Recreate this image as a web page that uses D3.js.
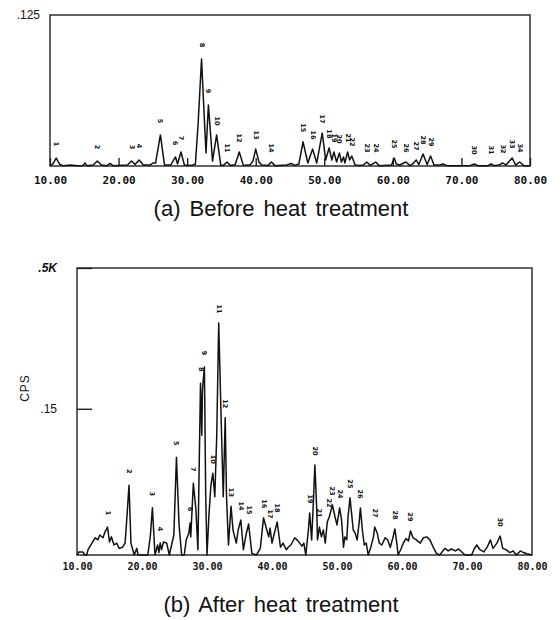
<!DOCTYPE html>
<html>
<head>
<meta charset="utf-8">
<script src="https://cdn.jsdelivr.net/npm/d3@7/dist/d3.min.js"></script>
<style>
  body { margin: 0; background: #fff; }
  .tick text.xlab { font-family: "DejaVu Sans Mono", monospace; font-weight: bold; fill: #111; }
  .ylab { font-family: "Liberation Sans", Arial, sans-serif; fill: #111; }
  .peak { font-family: "DejaVu Sans", sans-serif; font-weight: bold; font-size: 6.5px; fill: #111; }
  .title { font-family: "Liberation Sans", Arial, sans-serif; font-size: 22px; fill: #111; word-spacing: 3px; }
</style>
</head>
<body>
<div id="chart"></div>
<script>
// 2-theta tick values (degrees)
var angleTicks = [10, 20, 30, 40, 50, 60, 70, 80];

// (a) before heat treatment : 2-theta / CPS
var beforeAngle = [10.0, 10.4, 10.9, 11.4, 11.9, 13.0, 14.0, 14.8, 15.1, 15.4, 16.3, 16.9, 17.5, 18.3, 18.75, 19.2,
  21.3, 21.9, 22.4, 23.0, 23.6, 24.6, 25.0, 25.4, 26.1, 26.7, 27.6, 28.3, 28.6, 29.1, 29.6, 30.6, 31.2, 31.6,
  32.1, 32.5, 32.75, 33.1, 33.5, 33.7, 34.3, 34.9, 35.3, 35.8, 36.3, 37.0, 37.6, 38.2, 39.2, 39.6, 40.0, 40.5,
  40.9, 41.8, 42.3, 42.8, 44.5, 45.2, 45.7, 46.3, 46.9, 47.6, 48.3, 48.9, 49.7, 50.2, 50.7, 51.1, 51.4, 51.8,
  52.2, 52.5, 52.8, 53.0, 53.4, 53.7, 54.0, 54.5, 55.2, 55.7, 56.2, 56.7, 57.5, 58.0, 59.8, 60.2, 60.5, 61.0,
  61.9, 62.5, 62.9, 63.4, 63.8, 64.4, 65.0, 65.5, 66.0, 66.9, 67.3, 67.9, 71.3, 71.9, 72.4, 73.9, 74.3, 74.8,
  75.5, 76.0, 76.5, 77.4, 77.9, 78.5, 79.1, 80.0];
var beforeCps = [0.5, 1.5, 6.6, 1.5, 0.3, 0.8, 0.3, 0.5, 2.5, 0.3, 0.8, 4.1, 0.8, 0.3, 2.1, 0.3,
  0.8, 4.1, 1.2, 5.0, 0.8, 0.8, 2.5, 2.5, 25.7, 0.8, 0.8, 7.5, 1.7, 11.6, 0.8, 0.5, 1.5, 35,
  88.6, 40, 10.8, 50.5, 20, 4.1, 25.7, 0.8, 0.5, 3.3, 0.5, 1.0, 11.6, 0.5, 1.0, 4.0, 14, 3.0,
  0.8, 0.5, 3.3, 0.3, 0.8, 2.1, 0.5, 1.7, 20, 2.5, 14, 2.5, 27.3, 5.0, 15, 5.0, 11.6, 3.3,
  10.8, 3.3, 7.5, 2.5, 11.6, 5.0, 8.3, 0.8, 0.5, 0.8, 3.3, 0.5, 3.3, 0.3, 0.8, 6.6, 1.7, 0.8,
  3.3, 0.3, 1.7, 5.0, 1.2, 10, 1.2, 8.3, 0.8, 0.8, 1.7, 0.3, 0.5, 1.7, 0.3, 0.3, 1.7, 0.3,
  0.8, 2.5, 0.8, 6.6, 0.8, 3.3, 0.3, 0.3];
var beforePeakNo = [1, 2, 3, 4, 5, 6, 7, 8, 9, 10, 11, 12, 13, 14, 15, 16, 17, 18, 19, 20, 21, 22,
  23, 24, 25, 26, 27, 28, 29, 30, 31, 32, 33, 34];
var beforePeakAngle = [10.9, 16.9, 21.9, 23.0, 26.1, 28.3, 29.1, 32.1, 33.1, 34.3, 35.8, 37.6, 40.0, 42.3,
  46.9, 48.3, 49.7, 50.7, 51.4, 52.2, 53.4, 54.0, 56.2, 57.5, 60.2, 61.9, 63.4, 64.4, 65.5, 71.9, 74.3,
  76.0, 77.4, 78.5];

// (b) after heat treatment
var afterAngle = [10.0, 10.3, 10.9, 11.2, 11.5, 11.7, 12.3, 12.8, 13.2, 13.5, 14.0, 14.3, 14.7, 15.0, 15.3,
  15.7, 16.1, 16.5, 17.0, 17.4, 17.7, 18.0, 18.3, 18.8, 19.2, 19.4, 20.9, 21.3, 21.6, 22.0, 22.4, 22.6, 22.8,
  23.0, 23.3, 23.8, 24.2, 24.9, 25.3, 25.7, 26.1, 26.5, 26.8, 27.2, 27.4, 27.5, 27.9, 28.3, 28.6, 28.8, 29.0,
  29.2, 29.3, 29.6, 29.8, 30.0, 30.3, 30.6, 30.9, 31.2, 31.5, 31.8, 32.2, 32.5, 32.8, 33.0, 33.3, 33.7, 34.0,
  34.5, 34.8, 35.2, 35.6, 36.0, 36.4, 36.9, 37.6, 38.2, 38.7, 39.2, 39.5, 39.7, 40.0, 40.3, 40.8, 41.3, 41.7,
  42.2, 42.5, 42.9, 43.5, 44.0, 44.6, 44.9, 45.2, 45.6, 45.8, 46.1, 46.4, 46.6, 46.9, 47.0, 47.3, 47.6, 47.9,
  48.2, 48.5, 48.8, 49.1, 49.3, 49.7, 50.0, 50.4, 50.7, 51.0, 51.2, 51.5, 51.7, 52.0, 52.3, 52.5, 52.8, 53.1,
  53.4, 53.6, 53.9, 54.2, 54.5, 54.8, 55.2, 55.6, 55.8, 56.2, 56.5, 56.9, 57.4, 57.8, 58.2, 58.6, 58.9, 59.2,
  59.4, 59.8, 60.2, 60.6, 61.0, 61.3, 61.7, 62.2, 62.8, 63.3, 63.8, 64.3, 64.8, 65.3, 65.8, 66.6, 67.1, 67.6,
  68.2, 68.7, 69.2, 69.7, 70.7, 71.1, 71.5, 72.0, 72.6, 73.1, 73.6, 74.0, 74.6, 75.1, 75.5, 76.0, 76.6, 77.1,
  77.6, 78.2, 78.7, 79.2, 80.0];
var afterCps = [0, 0.15, 0.15, 0, 0, 0.4, 1.7, 3.3, 2.6, 4.3, 3.3, 5.5, 7.8, 2.0, 3.6,
  1.25, 1.7, 0.6, 0.8, 1.7, 14.8, 40, 1.7, 0, 0.6, 0, 0, 4.3, 20, 0, 1.25, 0.1, 1.7,
  0.4, 2.0, 1.7, 0, 4.3, 73, 8.9, 0, 0, 2.6, 5.0, 10, 3.6, 42, 18.3, 0.4, 63, 200,
  105, 186, 235, 30, 0, 14.8, 40, 53, 29, 105, 342, 122, 29, 134, 30, 1.25, 21, 6.4,
  1.7, 6.4, 11.7, 0.4, 4.3, 9.4, 0.05, 0, 0.6, 13, 6.4, 3.6, 7.3, 1.7, 4.3, 10.5, 0.8, 1.7,
  0.4, 0.8, 1.25, 3.3, 2.3, 1.0, 1.7, 0, 6.4, 16.2, 2.6, 29, 63, 16.2, 2.6, 7.8, 3.6, 6.4,
  1.7, 10.5, 13.5, 18.3, 22, 13.5, 8.9, 19.8, 11.7, 0.8, 3.6, 2.6, 13.5, 28, 13.5, 6.4, 5.0, 2.6,
  10, 19.8, 6.4, 1.25, 1.7, 0, 0.8, 3.6, 7.8, 5.0, 1.7, 1.25, 3.3, 2.6, 0.8, 3.3, 6.9, 1.7,
  0, 0.4, 1.7, 3.0, 2.3, 6.0, 3.3, 2.6, 1.7, 3.3, 3.6, 2.6, 0.8, 0.05, 0, 0.6, 0.25, 0.5,
  0.25, 0.5, 0.15, 0, 0, 0.5, 1.25, 0.4, 0.15, 0.8, 2.6, 0.6, 1.7, 3.9, 0.6, 0.4, 0.1, 0.25,
  0, 0.25, 0.1, 0.03, 0];
var afterPeakNo = [1, 2, 3, 4, 5, 6, 7, 8, 9, 10, 11, 12, 13, 14, 15, 16, 17, 18, 19, 20, 21, 22,
  23, 24, 25, 26, 27, 28, 29, 30];
var afterPeakAngle = [14.7, 18.0, 21.6, 22.8, 25.3, 27.4, 27.9, 29.0, 29.6, 30.9, 31.8, 32.8, 33.7, 35.2,
  36.4, 38.7, 39.7, 40.8, 45.8, 46.6, 47.3, 48.8, 49.3, 50.4, 52.0, 53.6, 55.8, 58.9, 61.3, 75.1];

var svg = d3.select('#chart').append('svg')
    .attr('width', 560)
    .attr('height', 620);

function drawPanel(p) {
    var g = svg.append('g');
    var data = p.angle.map(function (a, i) { return [a, p.cps[i]]; });

    // x axis, ticks pointing inward
    var xAxis = g.append('g')
        .attr('transform', 'translate(0,' + p.y.range()[0] + ')')
        .call(d3.axisBottom(p.x).tickValues(angleTicks).tickFormat(d3.format('.2f'))
            .tickSizeInner(-p.tick).tickSizeOuter(0).tickPadding(p.xPad));
    xAxis.selectAll('text').attr('class', 'xlab').style('font-size', p.xFont + 'px');

    var yAxis = g.append('g')
        .attr('transform', 'translate(' + p.x.range()[0] + ',0)')
        .call(d3.axisLeft(p.y).tickValues(p.yTicks).tickFormat(p.yFormat)
            .tickSizeInner(-p.yTick).tickSizeOuter(0).tickPadding(p.yPad));
    yAxis.selectAll('text').attr('class', 'ylab').style('font-size', '12px')
        .style('font-style', function (d) { return p.yItalic && d === p.yItalic ? 'italic' : null; })
        .style('font-weight', function (d) { return p.yItalic && d === p.yItalic ? 'bold' : null; });
    g.selectAll('.domain').remove();
    g.selectAll('.tick line').attr('stroke', '#111').attr('stroke-width', 1.3);

    // frame
    g.append('rect')
        .attr('x', p.x.range()[0])
        .attr('y', p.y.range()[1])
        .attr('width', p.x.range()[1] - p.x.range()[0])
        .attr('height', p.y.range()[0] - p.y.range()[1])
        .attr('fill', 'none')
        .attr('stroke', '#222')
        .attr('stroke-width', 1.4);

    g.append('path')
        .datum(data)
        .attr('fill', 'none')
        .attr('stroke', '#111')
        .attr('stroke-width', 1.5)
        .attr('stroke-linejoin', 'round')
        .attr('d', d3.line().x(function (d) { return p.x(d[0]); }).y(function (d) { return p.y(d[1]); }));

    // peak numbers, placed above the highest point near each angle
    p.peakNo.forEach(function (n, i) {
        var t = p.peakAngle[i], top = 0;
        data.forEach(function (d) { if (Math.abs(d[0] - t) <= 0.2 && d[1] > top) top = d[1]; });
        g.append('text')
            .attr('class', 'peak')
            .attr('transform', 'translate(' + p.x(t) + ',' + (p.y(top) - 14) + ') rotate(90)')
            .attr('text-anchor', 'middle')
            .attr('dominant-baseline', 'central')
            .text(n);
    });

    svg.append('text')
        .attr('class', 'title')
        .attr('x', 281)
        .attr('y', p.titleY)
        .attr('text-anchor', 'middle')
        .text(p.title);
}

drawPanel({
    x: d3.scaleLinear().domain([10, 80]).range([50, 530]),
    y: d3.scaleLinear().domain([0, 125]).range([166, 15]),
    angle: beforeAngle, cps: beforeCps,
    peakNo: beforePeakNo, peakAngle: beforePeakAngle,
    tick: 8, xPad: 10, xFont: 11,
    yTicks: [125], yFormat: function () { return '.125'; }, yTick: 0, yPad: 10,
    title: '(a) Before heat treatment', titleY: 216
});

drawPanel({
    x: d3.scaleLinear().domain([10, 80]).range([77, 532]),
    y: d3.scalePow().exponent(0.56).domain([0, 500]).range([555, 268]),
    angle: afterAngle, cps: afterCps,
    peakNo: afterPeakNo, peakAngle: afterPeakAngle,
    tick: 0, xPad: 8, xFont: 10,
    yTicks: [150, 500], yItalic: 500,
    yFormat: function (d) { return d === 500 ? '.5K' : d3.format('.2f')(d / 1000).replace(/^0/, ''); },
    yTick: 15, yPad: 20,
    title: '(b) After heat treatment', titleY: 612
});

svg.append('text')
    .attr('class', 'ylab')
    .attr('transform', 'translate(25,388) rotate(-90)')
    .attr('text-anchor', 'middle')
    .attr('dominant-baseline', 'central')
    .style('font-size', '12px')
    .style('letter-spacing', '1px')
    .text('CPS');
</script>
</body>
</html>
